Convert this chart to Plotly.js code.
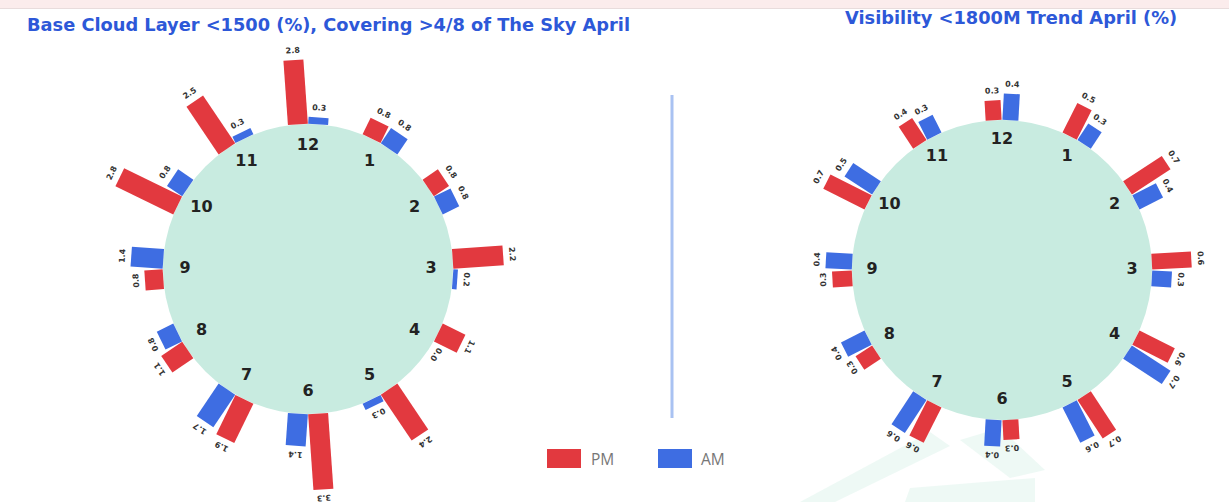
<!DOCTYPE html>
<html>
<head>
<meta charset="utf-8">
<script src="https://cdn.plot.ly/plotly-3.0.1.min.js"></script>
<style>html,body{margin:0;padding:0;background:#fff;} #chart{width:1229px;height:502px;}</style>
</head>
<body>
<div id="chart"></div>
<script>
// ---- Data ----
const hours = [1, 2, 3, 4, 5, 6, 7, 8, 9, 10, 11, 12];
const hourLabels = ['1', '2', '3', '4', '5', '6', '7', '8', '9', '10', '11', '12'];
const seriesNames = ['PM', 'AM'];
const cloudPM = [0.8, 0.8, 2.2, 1.1, 2.4, 3.3, 1.9, 1.1, 0.8, 2.8, 2.5, 2.8];
const cloudAM = [0.8, 0.8, 0.2, 0.0, 0.3, 1.4, 1.7, 0.8, 1.4, 0.8, 0.3, 0.3];
const visPM = [0.5, 0.7, 0.6, 0.6, 0.7, 0.3, 0.6, 0.3, 0.3, 0.7, 0.4, 0.3];
const visAM = [0.3, 0.4, 0.3, 0.7, 0.6, 0.4, 0.6, 0.4, 0.4, 0.5, 0.3, 0.4];
const titleLeft = 'Base Cloud Layer <1500 (%), Covering >4/8 of The Sky April';
const titleRight = 'Visibility <1800M Trend April (%)';

// ---- Styling / geometry ----
const W = 1229, H = 502;
const RED = '#e2393f', BLUE = '#3e6de2', DISC = '#c8ebe0';
const charts = [
  {key: 'polar',  pm: cloudPM, am: cloudAM, cx: 308,  cy: 269, rIn: 145, rOut: 232, ppu: 23, barW: 20, dTh: 4.0, inset: 22},
  {key: 'polar2', pm: visPM,   am: visAM,   cx: 1002, cy: 270, rIn: 150, rOut: 206, ppu: 66, barW: 16, dTh: 3.2, inset: 20}
];
const esc = s => s.replace(/</g, '&lt;').replace(/>/g, '&gt;');

function barTrace(values, off, color, width, subplot, name) {
  const r = [], th = [];
  values.forEach((v, i) => { r.push(0, v, null); th.push(hours[i] * 30 + off, hours[i] * 30 + off, null); });
  return {type: 'scatterpolar', subplot, name, mode: 'lines', r, theta: th, connectgaps: false,
          line: {color, width}, hoverinfo: 'skip', showlegend: false};
}
function labelTrace(values, off, pad, subplot) {
  return {type: 'scatterpolar', subplot, mode: 'text',
          r: values.map(v => v + pad), theta: hours.map(h => h * 30 + off),
          text: values.map(v => v.toFixed(1)), textposition: 'middle center',
          textfont: {family: 'DejaVu Sans', size: 8, color: '#333', weight: 700},
          cliponaxis: false, hoverinfo: 'skip', showlegend: false};
}

const data = [];
const WM = 'rgba(200,235,222,0.3)';
const layout = {
  width: W, height: H, margin: {l: 0, r: 0, t: 0, b: 0},
  paper_bgcolor: '#ffffff', showlegend: false,
  shapes: [
    {type: 'rect', xref: 'paper', yref: 'paper', x0: 0, x1: 1, y0: 1 - 8 / H, y1: 1, fillcolor: '#fbecec', line: {width: 0}, layer: 'below'},
    {type: 'line', xref: 'paper', yref: 'paper', x0: 0, x1: 1, y0: 1 - 8.5 / H, y1: 1 - 8.5 / H, line: {color: '#e8dcdc', width: 1}, layer: 'below'},
    // faint background watermark
    {type: 'path', xref: 'paper', yref: 'paper', layer: 'below', fillcolor: WM, line: {width: 0},
     path: `M ${800/W} ${1-502/H} L ${930/W} ${1-432/H} L ${950/W} ${1-446/H} L ${835/W} ${1-502/H} Z`},
    {type: 'path', xref: 'paper', yref: 'paper', layer: 'below', fillcolor: WM, line: {width: 0},
     path: `M ${905/W} ${1-502/H} L ${910/W} ${1-488/H} L ${1035/W} ${1-478/H} L ${1035/W} ${1-502/H} Z`},
    {type: 'path', xref: 'paper', yref: 'paper', layer: 'below', fillcolor: WM, line: {width: 0},
     path: `M ${960/W} ${1-440/H} L ${1000/W} ${1-428/H} L ${1045/W} ${1-470/H} L ${1010/W} ${1-478/H} Z`},
    {type: 'line', xref: 'paper', yref: 'paper', x0: 672 / W, x1: 672 / W, y0: 1 - 418 / H, y1: 1 - 95 / H, line: {color: '#a9c2f2', width: 3}},
    {type: 'rect', xref: 'paper', yref: 'paper', x0: 547 / W, x1: 581 / W, y0: 1 - 468 / H, y1: 1 - 449 / H, fillcolor: RED, line: {width: 0}},
    {type: 'rect', xref: 'paper', yref: 'paper', x0: 658 / W, x1: 692 / W, y0: 1 - 468 / H, y1: 1 - 449 / H, fillcolor: BLUE, line: {width: 0}}
  ],
  annotations: [
    {text: '<b>' + esc(titleLeft) + '</b>', xref: 'paper', yref: 'paper', x: 25 / W, y: 1 - 25 / H, xanchor: 'left', yanchor: 'middle', showarrow: false,
     font: {family: 'DejaVu Sans', size: 17.8, color: '#2d58d8'}},
    {text: '<b>' + esc(titleRight) + '</b>', xref: 'paper', yref: 'paper', x: 843 / W, y: 1 - 18 / H, xanchor: 'left', yanchor: 'middle', showarrow: false,
     font: {family: 'DejaVu Sans', size: 17.8, color: '#2d58d8'}},
    {text: seriesNames[0], xref: 'paper', yref: 'paper', x: 589 / W, y: 1 - 459 / H, xanchor: 'left', yanchor: 'middle', showarrow: false,
     font: {family: 'Open Sans', size: 15.5, color: '#777'}},
    {text: seriesNames[1], xref: 'paper', yref: 'paper', x: 699 / W, y: 1 - 459 / H, xanchor: 'left', yanchor: 'middle', showarrow: false,
     font: {family: 'Open Sans', size: 15.5, color: '#777'}}
  ]
};

charts.forEach(c => {
  const rh = c.rIn / c.ppu;                 // inner disc in radial units
  const rmax = (c.rOut - c.rIn) / c.ppu;
  layout[c.key] = {
    domain: {x: [(c.cx - c.rOut) / W, (c.cx + c.rOut) / W], y: [1 - (c.cy + c.rOut) / H, 1 - (c.cy - c.rOut) / H]},
    bgcolor: 'rgba(0,0,0,0)',
    radialaxis: {visible: false, range: [-rh, rmax], showgrid: false},
    angularaxis: {visible: false, rotation: 90, direction: 'clockwise', showgrid: false},
  };
  layout.shapes.push({type: 'circle', xref: 'paper', yref: 'paper', layer: 'below',
    x0: (c.cx - c.rIn) / W, x1: (c.cx + c.rIn) / W, y0: 1 - (c.cy + c.rIn) / H, y1: 1 - (c.cy - c.rIn) / H,
    fillcolor: DISC, line: {width: 0}});
  const pad = 9 / c.ppu;
  data.push(barTrace(c.pm, -c.dTh, RED, c.barW, c.key, 'PM'));
  data.push(barTrace(c.am, c.dTh, BLUE, c.barW, c.key, 'AM'));
  data.push(labelTrace(c.pm, -c.dTh, pad, c.key));
  data.push(labelTrace(c.am, c.dTh, pad, c.key));
  data.push({type: 'scatterpolar', subplot: c.key, mode: 'text',
    r: hours.map(() => -c.inset / c.ppu), theta: hours.map(h => h * 30), text: hourLabels,
    textfont: {family: 'DejaVu Sans', size: 16, color: '#222', weight: 700},
    hoverinfo: 'skip', showlegend: false});
});

Plotly.newPlot('chart', data, layout, {staticPlot: true}).then(gd => {
  const host = gd.getBoundingClientRect();
  gd.querySelectorAll('g.textpoint text').forEach(t => {
    const fs = parseFloat(t.style.fontSize || '0');
    if (!(fs > 0 && fs < 12)) return;
    const br = t.getBoundingClientRect();
    const bx = br.left + br.width / 2 - host.left, by = br.top + br.height / 2 - host.top;
    const c = bx < 672 ? charts[0] : charts[1];
    const ang = Math.atan2(bx - c.cx, -(by - c.cy)) * 180 / Math.PI;
    const bb = t.getBBox();
    const px = bb.x + bb.width / 2, py = bb.y + bb.height / 2;
    const prev = t.getAttribute('transform') || '';
    t.setAttribute('transform', (prev + ' rotate(' + ang.toFixed(1) + ',' + px.toFixed(1) + ',' + py.toFixed(1) + ')').trim());
  });
});
</script>
</body>
</html>
